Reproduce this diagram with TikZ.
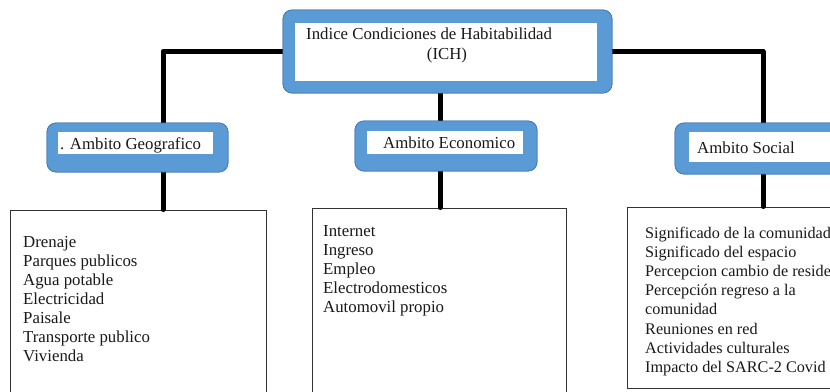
\documentclass[tikz,border=0pt]{standalone}
\usepackage{fontspec}
\setmainfont{Liberation Serif}
\definecolor{boxblue}{HTML}{5B9BD5}
\definecolor{boxedge}{HTML}{4A7EBB}
\begin{document}
\begin{tikzpicture}[x=1pt,y=-1pt,
  bluebox/.style={draw=boxedge, line width=0.8pt, fill=boxblue, rounded corners=9pt, inner sep=0pt},
  whitebox/.style={fill=white, inner sep=0pt},
  listbox/.style={draw=black!80, line width=1pt, fill=white, inner sep=0pt},
  conn/.style={line width=5pt, line cap=round, line join=round},
  lbl/.style={font=\fontsize{16.8}{19}\selectfont, text=black!90, inner sep=0pt, anchor=base west},
  slbl/.style={lbl, font=\fontsize{16.2}{19}\selectfont}]
\clip (0,0) rectangle (830,391);
\useasboundingbox (0,0) rectangle (830,391);

% list boxes
\node[listbox, minimum width=256pt, minimum height=195pt] (bl) at (138,307.5) {};
\node[listbox, minimum width=254pt, minimum height=197pt] (bm) at (439,306.5) {};
\node[listbox, minimum width=253pt, minimum height=181pt] (br) at (753.5,297.5) {};

% junction coordinates
\coordinate (gx) at (163,0);
\coordinate (ex) at (440,0);
\coordinate (sx) at (763,0);

% box outlines (positions for the connectors)
\node[bluebox, minimum width=329pt, minimum height=83pt] (top) at (447.5,51.5) {};
\node[bluebox, minimum width=181pt, minimum height=49pt] (geo) at (137.5,147.5) {};
\node[bluebox, minimum width=182pt, minimum height=50pt] (eco) at (446,146) {};
\node[bluebox, minimum width=185pt, minimum height=51pt] (soc) at (767.5,148.5) {};

% connectors
\draw[conn] (top.west) -| (gx |- geo.north);
\draw[conn] (top.east) -| (sx |- soc.north);
\draw[conn] (ex |- top.south) -- (ex |- eco.north);
\draw[conn] (gx |- geo.south) -- (gx |- bl.north);
\draw[conn] (ex |- eco.south) -- (ex |- bm.north);
\draw[conn] (sx |- soc.south) -- (sx |- br.north);

% blue boxes again, over the connector ends
\node[bluebox, minimum width=329pt, minimum height=83pt] (top2) at (top) {};
\node[bluebox, minimum width=181pt, minimum height=49pt] (geo2) at (geo) {};
\node[bluebox, minimum width=182pt, minimum height=50pt] (eco2) at (eco) {};
\node[bluebox, minimum width=185pt, minimum height=51pt] (soc2) at (soc) {};

% inner white panels
\node[whitebox, minimum width=302pt, minimum height=58pt] (topin) at (446,52) {};
\node[whitebox, minimum width=155pt, minimum height=22pt] (geoin) at (135.5,143) {};
\node[whitebox, minimum width=156pt, minimum height=23pt] (ecoin) at (445,142.5) {};
\node[whitebox, minimum width=180pt, minimum height=30pt] (socin) at (779,147) {};

% titles
\node[lbl] (t1) at (306,39) {Indice Condiciones de Habitabilidad};
\node[lbl, anchor=base] (t2) at (447,59) {(ICH)};
\node[lbl] (tg) at (60,149) {. Ambito Geografico};
\node[lbl] (te) at (383,148) {Ambito Economico};
\node[lbl] (ts) at (697,153) {Ambito Social};

% lists
\foreach \t [count=\i] in {Drenaje, Parques publicos, Agua potable, Electricidad, Paisale, Transporte publico, Vivienda}
  \node[lbl] (g\i) at (23,{247+19*(\i-1)}) {\t};
\foreach \t [count=\i] in {Internet, Ingreso, Empleo, Electrodomesticos, Automovil propio}
  \node[lbl] (e\i) at (323,{236+19*(\i-1)}) {\t};
\foreach \t/\yy [count=\i] in {Significado de la comunidad/238, Significado del espacio/257, Percepcion cambio de residencia/276, Percepción regreso a la/295, comunidad/314, Reuniones en red/334, Actividades culturales/353, Impacto del SARC-2 Covid/372}
  \node[slbl] (s\i) at (645,\yy) {\t};
\end{tikzpicture}
\end{document}
